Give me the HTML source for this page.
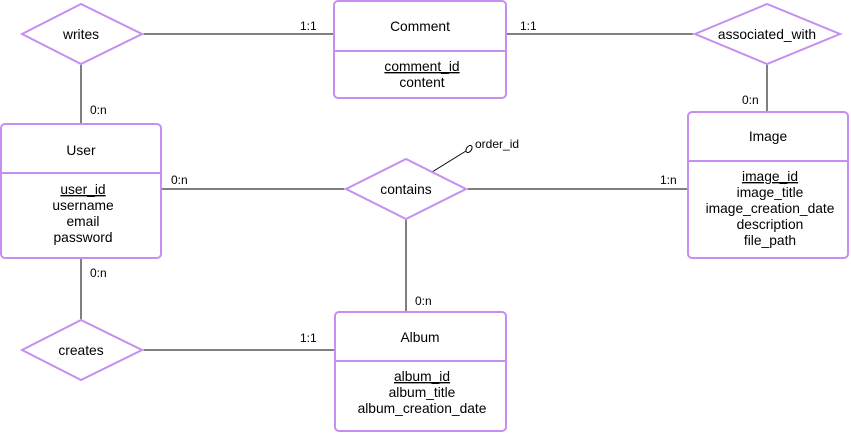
<!DOCTYPE html>
<html><head><meta charset="utf-8"><style>
html,body{margin:0;padding:0;background:#fff;}
svg text{font-family:"Liberation Sans",Arial,sans-serif;fill:#000;}
</style></head><body>
<svg width="851" height="440" viewBox="0 0 851 440" xmlns="http://www.w3.org/2000/svg">
<g stroke="#000" stroke-width="1" fill="none">
<line x1="142" y1="34" x2="334" y2="34"/>
<line x1="506" y1="34" x2="695" y2="34"/>
<line x1="767" y1="64" x2="767" y2="112"/>
<line x1="81" y1="64" x2="81" y2="124"/>
<line x1="161" y1="189" x2="346" y2="189"/>
<line x1="466" y1="189" x2="688" y2="189"/>
<line x1="406" y1="219" x2="406" y2="312"/>
<line x1="81" y1="258" x2="81" y2="320"/>
<line x1="142" y1="350" x2="334" y2="350"/>
<line x1="432" y1="172" x2="466" y2="151"/>
<ellipse cx="469" cy="149" rx="2.5" ry="4" transform="rotate(35 469 149)"/>
</g>
<g stroke="#c48ff0" stroke-width="2" fill="#fff">
<polygon points="22,34 81,4 142,34 81,64"/>
<polygon points="695,34 767,4 840,34 767,64"/>
<polygon points="346,189 406,159 466,189 406,219"/>
<polygon points="22,350 81,320 142,350 81,380"/>
<rect x="334" y="1" width="172" height="97" rx="4"/>
<line x1="334" y1="51" x2="506" y2="51"/>
<rect x="1" y="124" width="160" height="134" rx="4"/>
<line x1="1" y1="173" x2="161" y2="173"/>
<rect x="688" y="112" width="160" height="146" rx="4"/>
<line x1="688" y1="161" x2="848" y2="161"/>
<rect x="335" y="312" width="171" height="119" rx="4"/>
<line x1="335" y1="361" x2="506" y2="361"/>
</g>
<g font-size="13.8" text-anchor="middle">
<text x="81" y="39">writes</text>
<text x="767" y="39">associated_with</text>
<text x="406" y="194">contains</text>
<text x="81" y="355">creates</text>
<text x="420" y="31">Comment</text>
<text x="422" y="71" text-decoration="underline">comment_id</text>
<text x="422" y="87">content</text>
<text x="81" y="155">User</text>
<text x="83" y="194" text-decoration="underline">user_id</text>
<text x="83" y="210">username</text>
<text x="83" y="226">email</text>
<text x="83" y="242">password</text>
<text x="768" y="141">Image</text>
<text x="770" y="181" text-decoration="underline">image_id</text>
<text x="770" y="197">image_title</text>
<text x="770" y="213">image_creation_date</text>
<text x="770" y="229">description</text>
<text x="770" y="245">file_path</text>
<text x="420" y="342">Album</text>
<text x="422" y="381" text-decoration="underline">album_id</text>
<text x="422" y="397">album_title</text>
<text x="422" y="413">album_creation_date</text>
</g>
<g font-size="12">
<text x="300" y="30">1:1</text>
<text x="520" y="30">1:1</text>
<text x="742" y="104">0:n</text>
<text x="90" y="114">0:n</text>
<text x="171" y="184">0:n</text>
<text x="660" y="184">1:n</text>
<text x="90" y="277">0:n</text>
<text x="415" y="305">0:n</text>
<text x="300" y="342">1:1</text>
<text x="475" y="148">order_id</text>
</g>
</svg>
</body></html>
